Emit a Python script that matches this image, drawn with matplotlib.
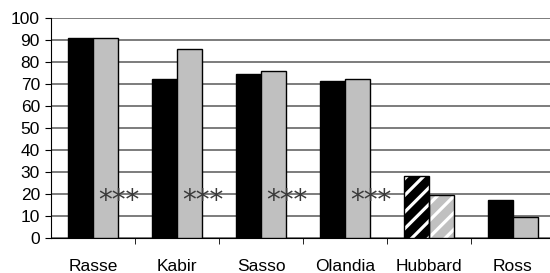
import matplotlib
matplotlib.use("Agg")
import matplotlib.pyplot as plt
import numpy as np

# values
categories = ["Rasse", "Kabir", "Sasso", "Olandia", "Hubbard", "Ross"]
series_a = [91, 72.5, 74.5, 71.5, 28, 17.5]
series_b = [91, 86, 76, 72.5, 19.5, 9.5]
hatched = [False, False, False, False, True, False]
star_groups = [0, 1, 2, 3]
star_text = "***"
star_level = 20

plt.rcParams["font.family"] = ["Liberation Sans", "DejaVu Sans"]
plt.rcParams["hatch.linewidth"] = 2.3

fig = plt.figure(figsize=(5.5, 2.73), dpi=100)
ax = fig.add_axes([51 / 550, 35 / 273, 504 / 550, 220 / 273])

x = np.arange(len(categories))
w = 0.3

for i in range(len(categories)):
    for off, val, col in ((-w / 2, series_a[i], "black"), (w / 2, series_b[i], "#c0c0c0")):
        if hatched[i]:
            # white stripes: hatch drawn in white, outline added on top
            ax.bar(x[i] + off, val, w, color=col, edgecolor="white", linewidth=0,
                   hatch="//", zorder=3)
            ax.bar(x[i] + off, val, w, fill=False, edgecolor="black", linewidth=1, zorder=4)
        else:
            ax.bar(x[i] + off, val, w, color=col, edgecolor="black", linewidth=1, zorder=3)

# significance stars
for g in star_groups:
    ax.annotate(star_text, (x[g] + 0.31, star_level), xytext=(0, -11),
                textcoords="offset points", ha="center", va="baseline",
                fontsize=20, color="#3a3a3a", family="DejaVu Sans", zorder=5)

ax.set_xlim(-0.5, len(categories) - 0.5)
ax.set_ylim(0, 100)
ax.set_yticks(np.arange(0, 101, 10))
ax.yaxis.grid(True, color="#666666", linewidth=1.2, zorder=0)
ax.set_axisbelow(True)

ax.set_xticks(x)
ax.set_xticklabels(categories)
ax.set_xticks(x[:-1] + 0.5, minor=True)
ax.tick_params(axis="x", which="major", length=0, pad=15, labelsize=12.5)
ax.tick_params(axis="x", which="minor", length=4, direction="out", color="black")
ax.tick_params(axis="y", length=4, direction="out", pad=4, labelsize=12.5)

for s in ("top", "right"):
    ax.spines[s].set_visible(False)
ax.spines["left"].set_color("black")
ax.spines["bottom"].set_color("black")

fig.savefig("out.png", dpi=100)
